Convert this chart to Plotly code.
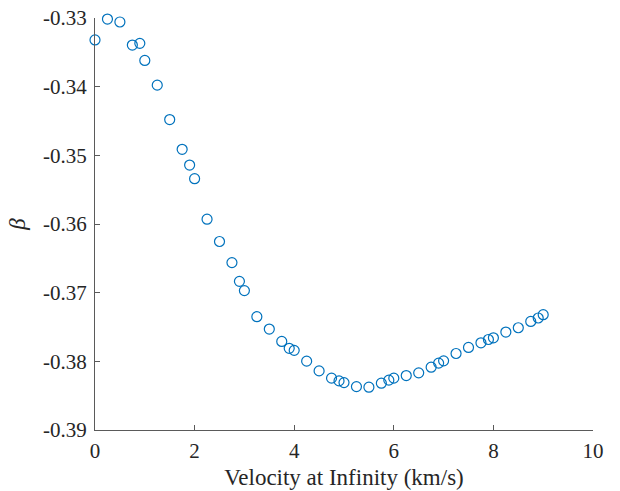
import plotly.graph_objects as go

velocity = [0, 0.25, 0.5, 0.75, 0.9, 1.0, 1.25, 1.5, 1.75, 1.9, 2.0, 2.25, 2.5, 2.75, 2.9, 3.0,
            3.25, 3.5, 3.75, 3.9, 4.0, 4.25, 4.5, 4.75, 4.9, 5.0, 5.25, 5.5, 5.75, 5.9, 6.0,
            6.25, 6.5, 6.75, 6.9, 7.0, 7.25, 7.5, 7.75, 7.9, 8.0, 8.25, 8.5, 8.75, 8.9, 9.0]
beta = [-0.3332, -0.33015, -0.33058, -0.33394, -0.33369, -0.33618, -0.33978, -0.34479,
        -0.34912, -0.35142, -0.3534, -0.3593, -0.36255, -0.36562, -0.36835, -0.3697,
        -0.3735, -0.3753, -0.3771, -0.3781, -0.3784, -0.37997, -0.38139, -0.38245,
        -0.38285, -0.3831, -0.38368, -0.38377, -0.38318, -0.38274, -0.38245, -0.38207,
        -0.38168, -0.38085, -0.38026, -0.37993, -0.37886, -0.37798, -0.3773, -0.37682,
        -0.37657, -0.37574, -0.37511, -0.37419, -0.37369, -0.37321]

x_ticks = [0, 2, 4, 6, 8, 10]
x_ticklabels = ["0", "2", "4", "6", "8", "10"]
y_ticks = [-0.39, -0.38, -0.37, -0.36, -0.35, -0.34, -0.33]
y_ticklabels = ["-0.39", "-0.38", "-0.37", "-0.36", "-0.35", "-0.34", "-0.33"]

axis_color = "#5a5a5a"
text_color = "#262626"
font_family = "Liberation Serif"

fig = go.Figure()
fig.add_trace(go.Scatter(
    x=velocity, y=beta, mode="markers",
    marker=dict(symbol="circle-open", size=10, color="#0072BD", line=dict(width=1.2, color="#0072BD")),
    cliponaxis=False, showlegend=False,
))

fig.update_layout(
    width=620, height=491,
    margin=dict(l=95, r=27, t=18, b=61),
    paper_bgcolor="white", plot_bgcolor="white",
    font=dict(family=font_family, color=text_color, size=21),
    xaxis=dict(
        range=[0, 10], tickvals=x_ticks, ticktext=x_ticklabels,
        showline=True, linecolor=axis_color, linewidth=1.3, mirror=False,
        ticks="inside", ticklen=5, tickcolor=axis_color, tickwidth=1,
        showgrid=False, zeroline=False, ticklabelstandoff=2, automargin=False,
        title=dict(text="Velocity at Infinity (km/s)", font=dict(size=23), standoff=6),
    ),
    yaxis=dict(
        range=[-0.39, -0.33], tickvals=y_ticks, ticktext=y_ticklabels,
        showline=True, linecolor=axis_color, linewidth=1.3, mirror=False,
        ticks="inside", ticklen=5, tickcolor=axis_color, tickwidth=1,
        showgrid=False, zeroline=False, ticklabelstandoff=3, automargin=False,
        title=dict(text="<i>β</i>", font=dict(size=23), standoff=10),
    ),
)

fig.write_html("out.html")
